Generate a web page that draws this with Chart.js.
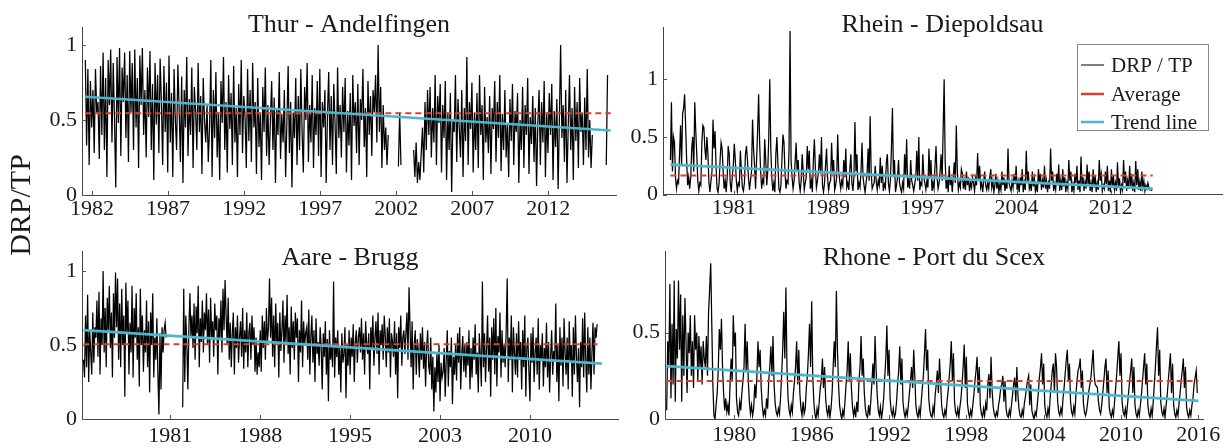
<!DOCTYPE html>
<html><head><meta charset="utf-8">
<script src="https://cdn.jsdelivr.net/npm/chart.js@4.4.0/dist/chart.umd.min.js"></script>
<style>
html,body{margin:0;padding:0;background:#fff;width:1227px;height:448px;overflow:hidden}
canvas{position:absolute;left:0;top:0}
</style></head><body>
<canvas id="c1" width="1227" height="448"></canvas>
<canvas id="c2" width="1227" height="448"></canvas>
<canvas id="c3" width="1227" height="448"></canvas>
<canvas id="c4" width="1227" height="448"></canvas>
<script>
const FONT = "'Liberation Serif','Times New Roman',serif";

// ---------- Thur - Andelfingen (monthly DRP/TP, from 1981.56) ----------
const thurStart = 1981.56;
const thurRatio = [
.90,.33,.84,.20,.76,.45,.70,.28,.84,.55,.62,.24,
.86,.40,.95,.30,.78,.12,.90,.60,.97,.35,.88,.50,
.05,.92,.48,.98,.26,.85,.62,.95,.38,.80,.22,.96,
.55,.88,.30,.97,.45,.78,.18,.93,.60,.98,.40,.70,
.25,.85,.52,.96,.30,.74,.10,.88,.47,.80,.28,.91,
.62,.20,.86,.42,.75,.15,.93,.35,.68,.12,.84,.50,
.30,.87,.58,.22,.79,.08,.70,.45,.92,.26,.64,.40,
.85,.18,.72,.55,.30,.88,.42,.66,.14,.78,.50,.35,
.60,.22,.45,.90,.12,.70,.38,.82,.25,.55,.10,.76,
.48,.92,.30,.62,.15,.80,.44,.68,.20,.86,.35,.58,
.12,.74,.40,.90,.28,.66,.52,.18,.84,.36,.70,.22,
.88,.45,.62,.14,.78,.32,.55,.10,.72,.42,.85,.26,
.60,.20,.50,.76,.30,.65,.08,.58,.40,.82,.24,.54,
.35,.70,.12,.48,.86,.28,.62,.05,.55,.38,.78,.20,
.66,.30,.84,.42,.15,.72,.50,.88,.22,.60,.35,.80,
.18,.58,.40,.76,.26,.84,.12,.62,.45,.70,.08,.52,
.82,.30,.66,.20,.74,.48,.14,.85,.38,.60,.25,.72,
.42,.78,.15,.56,.33,.68,.10,.80,.46,.62,.28,.74,
.20,.64,.50,.84,.32,.58,.12,.76,.40,.66,.26,.70,
.55,.80,.35,1.0,.42,.72,.18,.60,.30,.45,.20,.40,
null,null,null,null,null,null,null,.19,.55,.20,null,null,null,null,null,null,null,null,null,
.30,.12,.35,.08,.22,.10,.28,.45,.15,.62,.30,.70,
.40,.72,.25,.58,.35,.80,.20,.66,.48,.74,.15,.60,
.38,.76,.10,.55,.30,.68,.02,.50,.42,.80,.22,.64,
.45,.25,.70,.12,.58,.36,.92,.20,.62,.44,.75,.15,
.55,.30,.68,.18,.80,.40,.60,.10,.72,.35,.52,.28,
.66,.14,.58,.44,.76,.22,.62,.38,.80,.16,.54,.30,
.70,.25,.48,.12,.64,.36,.74,.20,.56,.42,.68,.08,
.50,.30,.72,.18,.60,.40,.78,.14,.52,.34,.66,.22,
.58,.06,.48,.70,.20,.62,.35,.76,.12,.55,.28,.68,
.40,.74,.10,.56,.32,.64,.04,.50,1.0,.38,.60,.22,
.70,.08,.46,.80,.30,.58,.10,.72,.36,.62,.18,.78,
.42,.55,.20,.65,.30,.84,.25,.50,.18,.40,
null,null,null,null,null,null,null,null,null,null,.20,.80
];
const thurAvgX = [1981.56, 2016.1], thurAvgY = [0.545, 0.545];
const thurTrendX = [1981.56, 2016.1], thurTrendY = [0.655, 0.43];
const thurTicks = [1982, 1987, 1992, 1997, 2002, 2007, 2012];
const thurTickLabels = ['1982','1987','1992','1997','2002','2007','2012'];

// ---------- Rhein - Diepoldsau (monthly, from 1975.8) ----------
const rheinStart = 1975.8;
const rheinRatio = [
.30,.80,.20,.50,.45,.15,.05,.12,.10,.35,.60,.25,
.70,.75,.87,.60,.30,.08,.15,.05,.15,.40,.50,.20,
.80,.55,.35,.12,.03,.10,.08,.45,.60,.58,.40,.30,
.50,.35,.10,.02,.12,.20,.65,.40,.55,.25,.05,.02,
.10,.30,.45,.40,.20,.05,.12,.02,.15,.42,.35,.10,
.02,.15,.25,.44,.30,.12,.03,.10,.08,.38,.20,.06,
.03,.10,.35,.42,.30,.15,.04,.12,.20,.65,.40,.25,
.05,.30,.55,.87,.45,.20,.05,.13,.10,.48,.30,.08,
.20,.50,1.0,.40,.15,.03,.10,.02,.35,.50,.28,.05,
.02,.08,.30,.52,.45,.20,.05,.12,.10,.40,1.42,.30,
.15,.05,.12,.28,.45,.20,.30,.10,.03,.12,.35,.20,
.04,.10,.15,.42,.22,.38,.05,.12,.02,.30,.48,.22,
.06,.12,.20,.35,.18,.50,.08,.02,.10,.25,.40,.15,
.03,.10,.12,.45,.20,.30,.04,.08,.15,.52,.20,.12,
.05,.12,.08,.30,.15,.40,.06,.10,.04,.22,.35,.10,
.03,.15,.63,.20,.35,.04,.10,.06,.20,.45,.15,.08,
.02,.10,.18,.40,.12,.68,.20,.05,.08,.10,.25,.12,
.04,.12,.08,.32,.10,.25,.03,.09,.06,.28,.35,.10,
.03,.12,.40,.75,.15,.30,.02,.08,.15,.30,.10,.05,
.02,.10,.05,.35,.15,.48,.06,.12,.05,.30,.12,.08,
.03,.09,.15,.38,.12,.50,.04,.10,.08,.35,.15,.10,
.04,.12,.06,.40,.15,.30,.03,.10,.05,.25,.42,.15,
.05,.10,.20,.35,.12,.55,1.0,.30,.05,.12,.02,.25,
.08,.15,.02,.15,.28,.10,.60,.20,.04,.10,.06,.22,
.18,.05,.12,.04,.20,.08,.15,.03,.10,.06,.15,.10,
.03,.14,.08,.36,.12,.25,.06,.10,.02,.12,.20,.08,
.04,.10,.05,.15,.22,.06,.12,.02,.08,.18,.05,.12,
.02,.09,.04,.20,.08,.15,.03,.10,.05,.40,.10,.06,
.03,.12,.06,.18,.09,.25,.04,.11,.02,.15,.08,.22,
.02,.10,.04,.38,.12,.20,.05,.09,.03,.20,.07,.14,
.03,.08,.02,.22,.10,.18,.04,.12,.06,.25,.05,.12,
.02,.10,.05,.40,.12,.20,.03,.09,.04,.18,.08,.26,
.03,.12,.04,.22,.07,.15,.02,.10,.05,.30,.12,.20,
.02,.09,.03,.18,.10,.25,.04,.12,.02,.33,.08,.15,
.03,.11,.05,.26,.08,.20,.03,.10,.02,.22,.06,.16,
.02,.10,.04,.30,.12,.18,.03,.08,.05,.20,.09,.25,
.03,.12,.02,.22,.07,.16,.04,.10,.03,.28,.06,.14,
.02,.08,.04,.30,.10,.20,.03,.12,.05,.25,.07,.18,
.03,.10,.02,.29,.08,.22,.04,.11,.03,.20,.06,.12,
.03,.08,.05,.10,.06,.04,.05,.03
];
const rheinAvgX = [1975.8, 2015.45], rheinAvgY = [0.165, 0.165];
const rheinTrendX = [1975.8, 2015.45], rheinTrendY = [0.26, 0.05];
const rheinTicks = [1981, 1988.75, 1996.5, 2004.25, 2012];
const rheinTickLabels = ['1981','1989','1997','2004','2012'];

// ---------- Aare - Brugg (monthly, from 1974.0) ----------
const aareStart = 1974.0;
const aareRatio = [
.40,.28,.70,.35,.84,.25,.60,.45,.30,.72,.38,.62,
.55,.80,.42,.86,.30,.68,.50,1.0,.45,.75,.35,.82,
.60,.90,.48,.72,.28,.85,.55,.99,.62,.95,.40,.78,
.35,.88,.50,.70,.15,.92,.58,.80,.30,.65,.45,.90,
.28,.75,.55,.85,.40,.62,.22,.88,.50,.70,.32,.60,
.45,.80,.35,.66,.18,.72,.50,.85,.28,.55,.40,.68,
.30,.03,.58,.20,.62,.45,.60,.65,.55,null,null,null,
null,null,null,null,null,null,null,null,null,null,null,null,
.08,.88,.25,.70,.50,.20,.62,.85,.55,.70,.48,.78,
.40,.76,.58,.90,.35,.68,.52,.80,.45,.72,.60,.85,
.50,.74,.38,.82,.55,.66,.42,.78,.60,.70,.30,.68,
.55,.80,.45,.88,.60,.94,.70,.50,.82,.40,.65,.35,
.58,.72,.30,.62,.48,.70,.38,.55,.66,.42,.75,.34,
.60,.45,.72,.35,.58,.65,.40,.70,.50,.62,.32,.55,
.30,.45,.35,.60,.32,.70,.48,.66,.40,.75,.52,.62,
.95,.55,.82,.42,.70,.35,.78,.50,.65,.28,.72,.46,
.60,.80,.38,.70,.52,.84,.44,.62,.30,.76,.48,.66,
.40,.72,.55,.68,.25,.60,.45,.80,.35,.66,.50,.58,
.62,.40,.74,.30,.56,.70,.38,.60,.25,.68,.44,.52,
.36,.62,.48,.20,.58,.42,.66,.30,.54,.12,.60,.40,
.50,.35,.93,.28,.55,.42,.60,.30,.48,.18,.58,.38,
.44,.62,.14,.50,.36,.60,.30,.55,.42,.64,.25,.52,
.60,.38,.55,.62,.45,.68,.40,.58,.30,.66,.50,.44,
.58,.20,.62,.48,.70,.36,.55,.66,.44,.72,.30,.60,
.50,.64,.40,.70,.56,.35,.62,.45,.68,.28,.58,.52,
.42,.66,.30,.58,.14,.62,.48,.70,.36,.55,.60,.44,
.58,.72,.40,.89,.62,.35,.66,.20,.50,.60,.30,.54,
.46,.28,.58,.40,.62,.34,.52,.22,.48,.60,.36,.30,
.55,.20,.42,.05,.35,.18,.45,.25,.50,.12,.38,.28,
.32,.48,.15,.40,.60,.22,.46,.35,.55,.10,.42,.30,
.50,.26,.58,.38,.62,.20,.44,.56,.32,.50,.28,.52,
.36,.60,.20,.48,.28,.55,.40,.64,.30,.45,.18,.58,
.42,.22,.93,.35,.58,.25,.48,.70,.32,.55,.15,.62,
.40,.68,.30,.75,.22,.56,.45,.72,.28,.60,.38,.50,
.35,.60,.95,.25,.55,.40,.70,.18,.62,.45,.30,.58,
.28,.66,.40,.52,.20,.60,.35,.70,.15,.48,.55,.32,
.12,.58,.38,.62,.25,.45,.55,.30,.68,.20,.50,.40,
.58,.22,.48,.35,.65,.28,.52,.18,.42,.60,.30,.46,
.40,.78,.25,.50,.12,.62,.36,.55,.22,.68,.45,.30,
.55,.20,.66,.38,.50,.15,.62,.30,.70,.42,.25,.48,
.08,.52,.35,.68,.28,.72,.40,.18,.62,.30,.55,.20,
.45,.65,.30,.62,.55,.64
];
const aareAvgX = [1974.0, 2015.45], aareAvgY = [0.505, 0.505];
const aareTrendX = [1974.0, 2015.8], aareTrendY = [0.60, 0.375];
const aareTicks = [1981, 1988.25, 1995.5, 2002.75, 2010];
const aareTickLabels = ['1981','1988','1995','2003','2010'];

// ---------- Rhone - Port du Scex (monthly, from 1974.75) ----------
const rhoneStart = 1974.75;
const rhoneRatio = [
.05,.45,.30,.78,.12,.55,.20,.80,.10,.52,.35,.80,
.40,.72,.10,.60,.25,.70,.45,.15,.50,.38,.60,.25,
.45,.18,.60,.40,.50,.22,.48,.30,.42,.20,.45,.35,
.30,.48,.25,.62,.75,.90,.55,.20,.02,.00,.08,.15,
.28,.52,.40,.58,.30,.15,.05,.12,.04,.08,.02,.20,
.35,.22,.60,.42,.50,.12,.04,.02,.10,.05,.15,.22,
.30,.55,.28,.45,.22,.10,.03,.08,.02,.06,.20,.12,
.25,.45,.30,.40,.18,.08,.02,.05,.02,.12,.06,.22,
.30,.42,.25,.48,.20,.09,.04,.02,.06,.03,.12,.25,
.40,.62,.35,.76,.30,.12,.05,.02,.08,.04,.15,.22,
.30,.45,.20,.40,.15,.06,.02,.10,.03,.06,.18,.25,
.38,.55,.30,.68,.25,.10,.03,.00,.06,.02,.10,.18,
.22,.35,.18,.30,.12,.05,.02,.08,.01,.06,.15,.30,
.45,.30,.74,.40,.20,.08,.03,.00,.05,.02,.10,.20,
.28,.45,.22,.38,.18,.07,.02,.06,.01,.10,.04,.22,
.30,.48,.25,.35,.15,.06,.02,.01,.08,.02,.10,.20,
.32,.20,.48,.28,.14,.05,.02,.07,.00,.05,.12,.24,
.35,.54,.25,.40,.12,.05,.02,.06,.01,.03,.10,.20,
.28,.42,.20,.35,.10,.04,.01,.05,.02,.08,.15,.22,
.30,.18,.40,.25,.08,.03,.01,.06,.02,.10,.18,.25,
.38,.52,.28,.40,.12,.05,.02,.01,.07,.03,.14,.20,
.28,.15,.35,.22,.08,.03,.01,.05,.02,.10,.16,.24,
.32,.45,.22,.38,.10,.04,.02,.06,.01,.07,.12,.20,
.30,.43,.18,.36,.09,.04,.01,.05,.02,.08,.14,.22,
.28,.36,.15,.30,.08,.03,.01,.06,.02,.09,.05,.20,
.26,.12,.36,.16,.07,.03,.01,.04,.02,.08,.12,.18,
.20,.25,.10,.22,.06,.02,.01,.05,.02,.08,.14,.20,
.24,.10,.30,.14,.06,.02,.01,.05,.02,.09,.13,.18,
.22,.25,.08,.20,.05,.02,.00,.04,.02,.08,.15,.24,
.30,.38,.20,.32,.08,.03,.01,.06,.02,.12,.20,.28,
.32,.15,.38,.30,.10,.04,.02,.06,.03,.12,.18,.26,
.34,.40,.22,.32,.10,.04,.02,.07,.03,.14,.22,.28,
.30,.35,.18,.28,.09,.04,.02,.05,.10,.16,.20,.24,
.32,.40,.25,.20,.19,.18,.10,.05,.03,.08,.15,.22,
.30,.35,.15,.28,.07,.03,.01,.05,.02,.10,.18,.26,
.36,.45,.25,.38,.10,.04,.02,.06,.01,.08,.15,.22,
.28,.35,.15,.30,.08,.03,.01,.05,.02,.08,.14,.22,
.30,.38,.20,.32,.08,.03,.01,.06,.02,.10,.20,.30,
.42,.53,.25,.40,.10,.04,.02,.06,.01,.08,.14,.22,
.30,.38,.15,.32,.08,.03,.01,.05,.02,.09,.15,.22,
.28,.35,.18,.30,.07,.03,.01,.05,.02,.08,.12,.20,
.24,.28,.15
];
const rhoneAvgX = [1974.75, 2016.0], rhoneAvgY = [0.22, 0.22];
const rhoneTrendX = [1974.75, 2016.0], rhoneTrendY = [0.305, 0.105];
const rhoneTicks = [1980, 1986, 1992, 1998, 2004, 2010, 2016];
const rhoneTickLabels = ['1980','1986','1992','1998','2004','2010','2016'];

const yTicksFull = [0, 0.5, 1];
const yTicksShort = [0, 0.5];
const yTickLabelsFull = ['0','0.5','1'];
const yTickLabelsShort = ['0','0.5'];

// ---------- helpers ----------
const toSeries = (start, arr) => arr.map((v, i) => ({x: start + i / 12, y: v}));
const toPairs = (xs, ys) => xs.map((x, i) => ({x, y: ys[i]}));

const decor = {
  id: 'decor',
  afterDraw(chart, args, o) {
    const ctx = chart.ctx, a = chart.chartArea, xs = chart.scales.x, ys = chart.scales.y;
    ctx.save();
    ctx.strokeStyle = '#555'; ctx.lineWidth = 1;
    ctx.beginPath();
    xs.ticks.forEach(t => { const p = Math.round(xs.getPixelForValue(t.value)) + 0.5; ctx.moveTo(p, a.bottom); ctx.lineTo(p, a.bottom - 4); });
    ys.ticks.forEach(t => { const p = Math.round(ys.getPixelForValue(t.value)) + 0.5; ctx.moveTo(a.left, p); ctx.lineTo(a.left + 4, p); });
    ctx.stroke();
    ctx.fillStyle = '#1a1a1a';
    ctx.font = '26px ' + FONT;
    ctx.textAlign = 'center'; ctx.textBaseline = 'alphabetic';
    ctx.fillText(o.title, (a.left + a.right) / 2, o.ty);
    if (o.ylabel) {
      ctx.save();
      ctx.translate(22, 205); ctx.rotate(-Math.PI / 2);
      ctx.font = '30px ' + FONT; ctx.textBaseline = 'middle';
      ctx.fillText(o.ylabel, 0, 0);
      ctx.restore();
    }
    if (o.legend) {
      const bx = 1077.5, by = 44.5, bw = 131, bh = 86;
      ctx.fillStyle = '#fff'; ctx.fillRect(bx, by, bw, bh);
      ctx.strokeStyle = '#8a8a8a'; ctx.lineWidth = 1; ctx.strokeRect(bx, by, bw, bh);
      const items = chart.data.datasets;
      const ys2 = [65, 94, 122];
      items.forEach((d, i) => {
        ctx.strokeStyle = d.borderColor; ctx.lineWidth = i === 0 ? 1 : 2.5;
        ctx.setLineDash([]);
        ctx.beginPath(); ctx.moveTo(1081, ys2[i]); ctx.lineTo(1104, ys2[i]); ctx.stroke();
        ctx.fillStyle = '#1a1a1a'; ctx.font = '21px ' + FONT;
        ctx.textAlign = 'left'; ctx.textBaseline = 'middle';
        ctx.fillText(d.label, 1111, ys2[i] + 1);
      });
    }
    ctx.restore();
  }
};

function panel(id, p) {
  const YW = 40, XH = 25;
  return new Chart(document.getElementById(id), {
    type: 'line',
    data: { datasets: [
      {label: 'DRP / TP', data: p.series, borderColor: '#000', borderWidth: 1.25, pointRadius: 0, tension: 0, spanGaps: false, order: 2},
      {label: 'Average', data: p.avg, borderColor: '#d8412f', borderWidth: 2, borderDash: [6, 4], pointRadius: 0, order: 1},
      {label: 'Trend line', data: p.trend, borderColor: '#4cb6cf', borderWidth: 2.75, pointRadius: 0, order: 0}
    ]},
    options: {
      responsive: false, animation: false, devicePixelRatio: 1,
      parsing: false, normalized: true,
      layout: {padding: {left: p.L - YW, right: 1227 - p.R, top: p.T, bottom: 448 - p.B - XH}},
      scales: {
        x: {
          type: 'linear', min: p.xmin, max: p.xmax,
          afterBuildTicks: s => { s.ticks = p.xticks.map(v => ({value: v})); },
          afterFit: s => { s.height = XH; },
          grid: {display: false, drawTicks: false},
          border: {display: true, color: '#444', width: 1},
          ticks: {callback: (v, i) => p.xlabels[i], font: {family: FONT, size: 22}, color: '#1a1a1a', padding: p.xpad, maxRotation: 0, autoSkip: false}
        },
        y: {
          type: 'linear', min: 0, max: p.ymax,
          afterBuildTicks: s => { s.ticks = p.yticks.map(v => ({value: v})); },
          afterFit: s => { s.width = YW; },
          grid: {display: false, drawTicks: false},
          border: {display: true, color: '#444', width: 1},
          ticks: {callback: (v, i) => p.ylabels[i], font: {family: FONT, size: 22}, color: '#1a1a1a', padding: 5}
        }
      },
      plugins: {legend: {display: false}, tooltip: {enabled: false}, title: {display: false},
        decor: {title: p.title, ty: p.ty, legend: p.legend, ylabel: p.ylabel}}
    },
    plugins: [decor]
  });
}

panel('c1', {series: toSeries(thurStart, thurRatio), avg: toPairs(thurAvgX, thurAvgY), trend: toPairs(thurTrendX, thurTrendY),
  L: 82, R: 616, T: 27, B: 195, xmin: 1981.34, xmax: 2016.45, ymax: 1.12,
  xticks: thurTicks, xlabels: thurTickLabels, yticks: yTicksFull, ylabels: yTickLabelsFull, xpad: 1,
  title: 'Thur - Andelfingen', ty: 32, ylabel: 'DRP/TP'});
panel('c2', {series: toSeries(rheinStart, rheinRatio), avg: toPairs(rheinAvgX, rheinAvgY), trend: toPairs(rheinTrendX, rheinTrendY),
  L: 663, R: 1222, T: 27.5, B: 194.5, xmin: 1975.19, xmax: 2021.14, ymax: 1.45,
  xticks: rheinTicks, xlabels: rheinTickLabels, yticks: yTicksFull, ylabels: yTickLabelsFull, xpad: 1,
  title: 'Rhein - Diepoldsau', ty: 32, legend: true});
panel('c3', {series: toSeries(aareStart, aareRatio), avg: toPairs(aareAvgX, aareAvgY), trend: toPairs(aareTrendX, aareTrendY),
  L: 82, R: 618, T: 251.8, B: 419, xmin: 1973.88, xmax: 2017.1, ymax: 1.13,
  xticks: aareTicks, xlabels: aareTickLabels, yticks: yTicksFull, ylabels: yTickLabelsFull, xpad: 4,
  title: 'Aare - Brugg', ty: 265});
panel('c4', {series: toSeries(rhoneStart, rhoneRatio), avg: toPairs(rhoneAvgX, rhoneAvgY), trend: toPairs(rhoneTrendX, rhoneTrendY),
  L: 665, R: 1203, T: 251.2, B: 419, xmin: 1974.62, xmax: 2016.36, ymax: 0.97,
  xticks: rhoneTicks, xlabels: rhoneTickLabels, yticks: yTicksShort, ylabels: yTickLabelsShort, xpad: 3,
  title: 'Rhone - Port du Scex', ty: 265});
</script>
</body></html>
